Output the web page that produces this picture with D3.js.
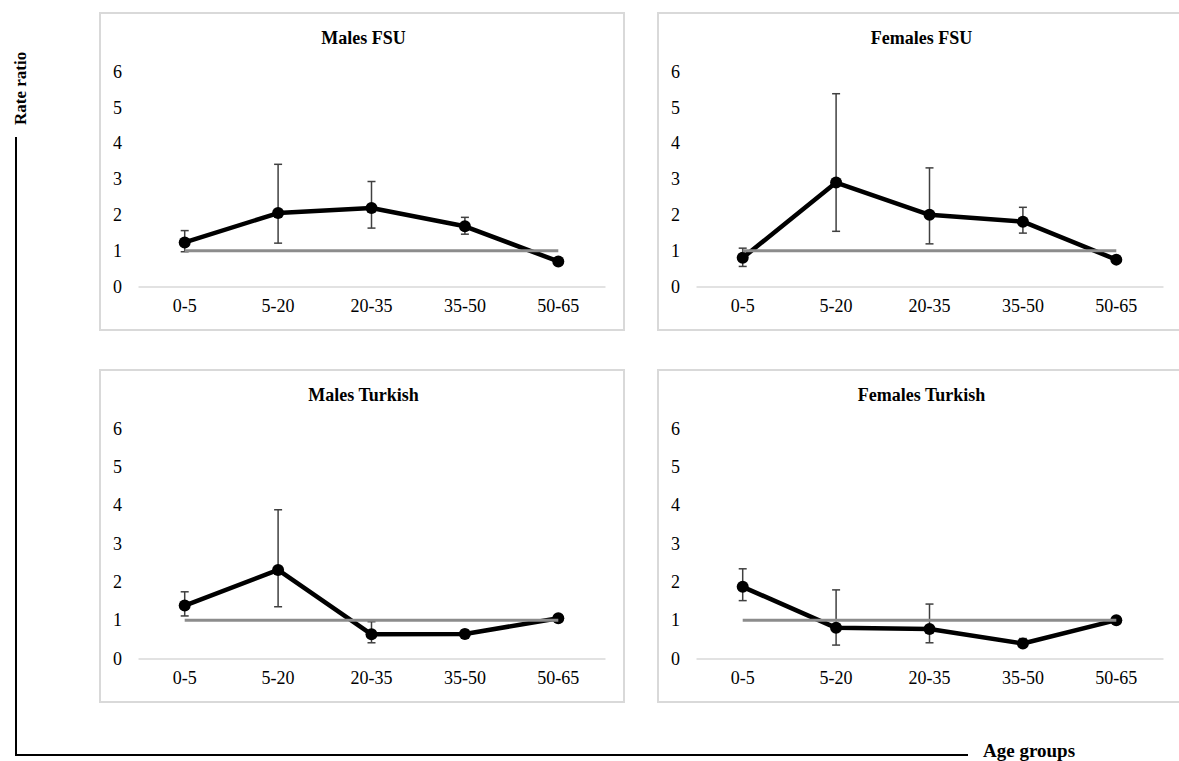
<!DOCTYPE html>
<html>
<head>
<meta charset="utf-8">
<script src="https://cdn.jsdelivr.net/npm/d3@7"></script>
<style>
  body { margin: 0; background: #fff; }
  svg { font-family: "Liberation Serif", "Times New Roman", serif; }
</style>
</head>
<body>
<svg id="chart" width="1179" height="761"></svg>
<script>
const ageGroups = ["0-5", "5-20", "20-35", "35-50", "50-65"];
const yTicks = [0, 1, 2, 3, 4, 5, 6];
const panelTitles = ["Males FSU", "Females FSU", "Males Turkish", "Females Turkish"];

// rate ratio and 95% CI per age group
const malesFsu = [1.23, 2.05, 2.19, 1.68, 0.70];
const malesFsuLo = [0.97, 1.21, 1.63, 1.46, 0.64];
const malesFsuHi = [1.56, 3.41, 2.93, 1.93, 0.77];

const femalesFsu = [0.80, 2.90, 2.00, 1.81, 0.75];
const femalesFsuLo = [0.56, 1.54, 1.19, 1.49, 0.68];
const femalesFsuHi = [1.07, 5.38, 3.31, 2.21, 0.83];

const malesTurkish = [1.38, 2.31, 0.63, 0.64, 1.05];
const malesTurkishLo = [1.11, 1.35, 0.41, 0.57, 0.98];
const malesTurkishHi = [1.74, 3.88, 0.96, 0.74, 1.12];

const femalesTurkish = [1.87, 0.80, 0.77, 0.39, 1.00];
const femalesTurkishLo = [1.51, 0.35, 0.41, 0.30, 0.93];
const femalesTurkishHi = [2.34, 1.79, 1.42, 0.52, 1.07];

const referenceValue = 1;

const panels = [
  { title: panelTitles[0], vals: malesFsu, lo: malesFsuLo, hi: malesFsuHi, x: 100, y: 13, h: 317 },
  { title: panelTitles[1], vals: femalesFsu, lo: femalesFsuLo, hi: femalesFsuHi, x: 658, y: 13, h: 317 },
  { title: panelTitles[2], vals: malesTurkish, lo: malesTurkishLo, hi: malesTurkishHi, x: 100, y: 370, h: 332 },
  { title: panelTitles[3], vals: femalesTurkish, lo: femalesTurkishLo, hi: femalesTurkishHi, x: 658, y: 370, h: 332 }
];

const svg = d3.select("#chart");
const panelW = 524;
const m = { left: 38, right: 19, top: 58.5, bottom: 43.5 };

panels.forEach(p => {
  const g = svg.append("g").attr("transform", `translate(${p.x},${p.y})`);

  g.append("rect")
    .attr("x", 0).attr("y", 0)
    .attr("width", panelW).attr("height", p.h)
    .attr("fill", "#fff")
    .attr("stroke", "#d9d9d9")
    .attr("stroke-width", 2);

  const x = d3.scaleBand().domain(ageGroups).range([m.left, panelW - m.right]);
  const y = d3.scaleLinear().domain([0, 6]).range([p.h - m.bottom, m.top]);
  const cx = d => x(d) + x.bandwidth() / 2;

  g.append("text")
    .attr("x", (m.left + panelW - m.right) / 2 - 8)
    .attr("y", 31)
    .attr("text-anchor", "middle")
    .attr("font-size", 18)
    .attr("font-weight", "bold")
    .text(p.title);

  // y axis labels only
  const yAxis = g.append("g")
    .attr("transform", `translate(${m.left},0)`)
    .call(d3.axisLeft(y).tickValues(yTicks).tickFormat(d3.format("d")).tickSize(0).tickPadding(16))
    .attr("font-family", null)
    .attr("font-size", 18);
  yAxis.select(".domain").remove();
  yAxis.selectAll("text").attr("fill", "#000");

  // x axis
  const xAxis = g.append("g")
    .attr("transform", `translate(0,${y(0)})`)
    .call(d3.axisBottom(x).tickSize(0).tickPadding(13))
    .attr("font-family", null)
    .attr("font-size", 18);
  xAxis.select(".domain").attr("stroke", "#d9d9d9").attr("stroke-width", 1.5);
  xAxis.selectAll("text").attr("fill", "#000");

  const rows = ageGroups.map((a, i) => ({ a, v: p.vals[i], lo: p.lo[i], hi: p.hi[i] }));

  // error bars
  const eb = g.append("g").attr("stroke", "#404040").attr("stroke-width", 1.5);
  eb.selectAll(".stem").data(rows).enter().append("line")
    .attr("x1", d => cx(d.a)).attr("x2", d => cx(d.a))
    .attr("y1", d => y(d.lo)).attr("y2", d => y(d.hi));
  eb.selectAll(".capHi").data(rows).enter().append("line")
    .attr("x1", d => cx(d.a) - 4).attr("x2", d => cx(d.a) + 4)
    .attr("y1", d => y(d.hi)).attr("y2", d => y(d.hi));
  eb.selectAll(".capLo").data(rows).enter().append("line")
    .attr("x1", d => cx(d.a) - 4).attr("x2", d => cx(d.a) + 4)
    .attr("y1", d => y(d.lo)).attr("y2", d => y(d.lo));

  // rate ratio line
  const line = d3.line().x(d => cx(d.a)).y(d => y(d.v));
  g.append("path")
    .datum(rows)
    .attr("d", line)
    .attr("fill", "none")
    .attr("stroke", "#000")
    .attr("stroke-width", 4.5)
    .attr("stroke-linejoin", "round");

  g.selectAll(".dot").data(rows).enter().append("circle")
    .attr("cx", d => cx(d.a))
    .attr("cy", d => y(d.v))
    .attr("r", 6)
    .attr("fill", "#000");

  // reference line at 1
  g.append("line")
    .attr("x1", cx(ageGroups[0])).attr("x2", cx(ageGroups[ageGroups.length - 1]))
    .attr("y1", y(referenceValue)).attr("y2", y(referenceValue))
    .attr("stroke", "#8c8c8c")
    .attr("stroke-width", 3);
});

// outer axes
svg.append("path")
  .attr("d", "M16,137 V755 H968")
  .attr("fill", "none")
  .attr("stroke", "#000")
  .attr("stroke-width", 2);

svg.append("text")
  .attr("transform", "translate(26,125) rotate(-90)")
  .attr("text-anchor", "start")
  .attr("font-size", 17)
  .attr("font-weight", "bold")
  .text("Rate ratio");

svg.append("text")
  .attr("x", 983)
  .attr("y", 757)
  .attr("font-size", 19)
  .attr("font-weight", "bold")
  .text("Age groups");
</script>
</body>
</html>
